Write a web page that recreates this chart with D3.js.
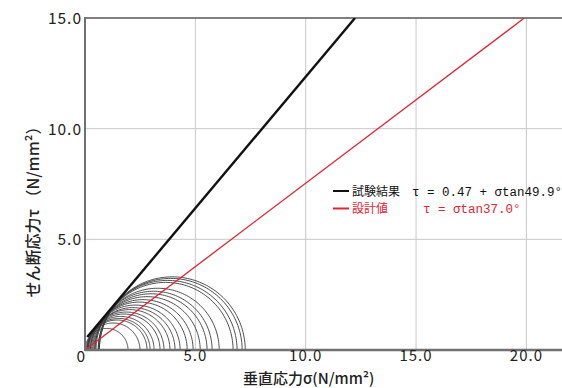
<!DOCTYPE html>
<html><head><meta charset="utf-8">
<script src="https://cdn.jsdelivr.net/npm/d3@7"></script>
<style>body{margin:0;background:#fff}</style></head>
<body><svg id="c" width="562" height="388"></svg>
<script>
const xTicks=[0,5,10,15,20];
const yTicks=[0,5,10,15];
const xTickLabels=["0","5.0","10.0","15.0","20.0"];
const yTickLabels=["0","5.0","10.0","15.0"];
// Mohr circles: principal stresses (N/mm2)
const sigma3=[0.00,0.05,0.10,0.10,0.10,0.15,0.15,0.20,0.25,0.25,0.30,0.35,0.40,0.45,0.45,0.50,0.60,0.60,0.65,0.65];
const sigma1=[1.95,2.49,2.81,2.95,3.13,3.40,3.58,3.85,4.08,4.31,4.63,4.90,5.22,5.53,5.76,6.08,6.71,6.89,7.12,7.26];
// strength lines: tau = c + sigma*tan(phi)
const lineNames=["試験結果","設計値"];
const lineC=[0.47,0];
const linePhi=[49.9,37.0];
const lineStart=[0.1,0.05];
const lineLabels=["τ = 0.47 + σtan49.9°","τ = σtan37.0°"];
const lineColors=["#111","#e02434"];

const svg=d3.select("#c");
const L=85,T=18,B=350;
const x=d3.scaleLinear().domain([0,22]).range([L,L+22*22.07]);
const y=d3.scaleLinear().domain([0,15]).range([B,T]);
const g=svg.append("g");
// grid
g.selectAll(".gx").data(xTicks.slice(1)).join("line").attr("x1",d=>x(d)).attr("x2",d=>x(d)).attr("y1",T).attr("y2",B).attr("stroke","#c8c8c8").attr("stroke-width",1);
g.selectAll(".gy").data(yTicks.slice(1,-1)).join("line").attr("x1",L).attr("x2",562).attr("y1",d=>y(d)).attr("y2",d=>y(d)).attr("stroke","#c8c8c8").attr("stroke-width",1);
// clip
svg.append("clipPath").attr("id","cp").append("rect").attr("x",L).attr("y",T).attr("width",600).attr("height",B-T);
const pg=svg.append("g").attr("clip-path","url(#cp)");
// circles
const arc=d3.line().x(d=>x(d[0])).y(d=>y(d[1]));
sigma3.forEach((s3,i)=>{
  const c=(s3+sigma1[i])/2, r=(sigma1[i]-s3)/2;
  const pts=d3.range(0,181,2).map(a=>[c+r*Math.cos(a*Math.PI/180), r*Math.sin(a*Math.PI/180)]);
  pg.append("path").attr("d",arc(pts)).attr("fill","none").attr("stroke","#3a3a3a").attr("stroke-width",0.9);
});
// lines
lineC.forEach((c,i)=>{
  const t=Math.tan(linePhi[i]*Math.PI/180);
  const s0=lineStart[i], s1=(15-c)/t;
  pg.append("line").attr("x1",x(s0)).attr("y1",y(c+s0*t)).attr("x2",x(s1)).attr("y2",y(15))
    .attr("stroke",lineColors[i]).attr("stroke-width",i==0?2.4:1.3);
});
// axes frame
g.append("line").attr("x1",L).attr("x2",562).attr("y1",T).attr("y2",T).attr("stroke","#808080").attr("stroke-width",2);
svg.append("line").attr("x1",L).attr("x2",562).attr("y1",B).attr("y2",B).attr("stroke","#707070").attr("stroke-width",2.5);
svg.append("line").attr("x1",L).attr("x2",L).attr("y1",T-1).attr("y2",B+1).attr("stroke","#707070").attr("stroke-width",2);
const tf="'Noto Sans CJK JP','DejaVu Sans',sans-serif";
// tick labels (shared origin label drawn once from the y axis)
svg.selectAll(".xl").data(xTicks.slice(1)).join("text").attr("x",d=>x(d)).attr("y",361).attr("text-anchor","middle")
  .attr("font-family",tf).attr("font-size",15).attr("letter-spacing",1).attr("fill","#222").text((d,i)=>xTickLabels[i+1]);
svg.selectAll(".yl").data(yTicks).join("text").attr("x",d=>d===0?L+1:L-3).attr("y",d=>y(d)+(d===0?12:6)).attr("text-anchor","end")
  .attr("font-family",tf).attr("font-size",15.5).attr("letter-spacing",1).attr("fill","#222").text((d,i)=>yTickLabels[i]);
// axis titles
svg.append("text").attr("x",243).attr("y",383.5).attr("font-family",tf).attr("font-size",15).attr("font-weight",500).attr("fill","#222").text("垂直応力σ(N/mm²)");
svg.append("text").attr("transform","translate(39,208) rotate(-90)").attr("text-anchor","middle").attr("font-family",tf).attr("font-size",16).attr("font-weight",500).attr("fill","#222").text("せん断応力τ （N/mm²）");
// legend
const legX=[412,423];
lineNames.forEach((n,i)=>{
  const yy=191+i*17.5;
  svg.append("line").attr("x1",333).attr("x2",349).attr("y1",yy).attr("y2",yy).attr("stroke",lineColors[i]).attr("stroke-width",2);
  svg.append("text").attr("x",352).attr("y",yy+4.5).attr("font-family",tf).attr("font-size",12).attr("fill",lineColors[i]).text(n);
  svg.append("text").attr("x",legX[i]).attr("y",yy+4.5).attr("font-family","'Liberation Mono',monospace").attr("font-size",12.5).attr("fill",lineColors[i]).text(lineLabels[i]);
});
</script></body></html>
